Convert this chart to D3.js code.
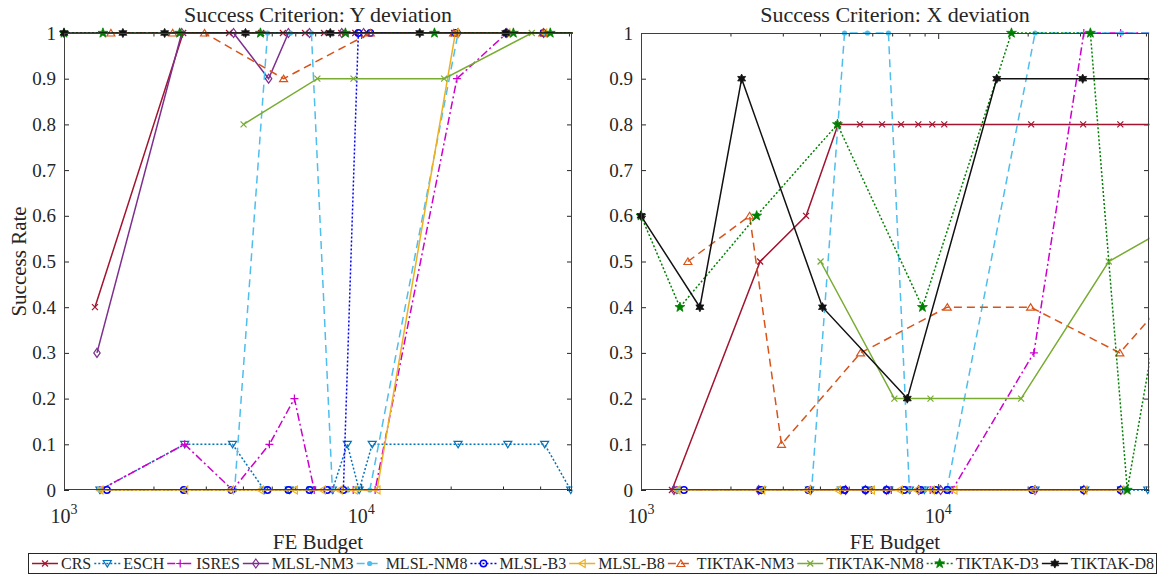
<!DOCTYPE html>
<html>
<head>
<meta charset="utf-8">
<script src="https://cdn.jsdelivr.net/npm/d3@7"></script>
<style>
body { margin: 0; background: #fff; }
svg text { font-family: "Liberation Serif", "Times New Roman", serif; fill: #262626; }
</style>
</head>
<body>
<div id="chart"></div>
<script>
// tick labels / axis values
var yTicks = [0, 0.1, 0.2, 0.3, 0.4, 0.5, 0.6, 0.7, 0.8, 0.9, 1];
var xMajor = [1000, 10000];
var xMinor = [2000, 3000, 4000, 5000, 6000, 7000, 8000, 9000, 20000, 30000, 40000, 50000];
var xDomain = [1000, 51200];
var titles = ["Success Criterion: Y deviation", "Success Criterion: X deviation"];
var algos = ["CRS", "ESCH", "ISRES", "MLSL-NM3", "MLSL-NM8", "MLSL-B3", "MLSL-B8",
             "TIKTAK-NM3", "TIKTAK-NM8", "TIKTAK-D3", "TIKTAK-D8"];

// FE budget used, success rate for Y deviation, success rate for X deviation
var crsFE   = [1271, 2517, 3593, 4605, 5453, 6471, 7497, 8570, 9550, 10480, 20550, 30740, 41000, 55000];
var crsY    = [0.4, 1, 1, 1, 1, 1, 1, 1, 1, 1, 1, 1, 1, 1];
var crsX    = [0, 0.5, 0.6, 0.8, 0.8, 0.8, 0.8, 0.8, 0.8, 0.8, 0.8, 0.8, 0.8, 0.8];

var eschFE  = [1321, 2547, 3690, 4720, 5730, 6800, 8000, 8980, 9840, 10890, 21180, 31130, 41420, 50700];
var eschY   = [0, 0.1, 0.1, 0, 0, 0, 0, 0.1, 0, 0.1, 0.1, 0.1, 0.1, 0];
var eschX   = [0, 0, 0, 0, 0, 0, 0, 0, 0, 0, 0, 0, 0, 0];

var isresFE = [1321, 2547, 3690, 4910, 5960, 6950, 8040, 9400, 11140, 20990, 30900, 41100, 55000];
var isresY  = [0, 0.1, 0, 0.1, 0.2, 0, 0, 0, 0, 0.9, 1, 1, 1];
var isresX  = [0, 0, 0, 0, 0, 0, 0, 0, 0, 0.3, 1, 1, 1];

var nm3FE   = [1291, 2489, 3720, 4880, 5690, 6700, 8600, 10190, 21180, 30900, 41100];
var nm3Y    = [0.3, 1, 1, 0.9, 1, 1, 1, 1, 1, 1, 1];
var nm3X    = [0, 0, 0, 0, 0, 0, 0, 0, 0, 0, 0];

var nm8FE   = [1321, 2547, 3750, 4840, 5780, 6800, 8000, 9020, 10690, 21180, 41420, 55000];
var nm8Y    = [0, 0, 0, 1, 1, 1, 0, 0, 0, 1, 1, 1];
var nm8X    = [0, 0, 0, 1, 1, 1, 0, 0, 0, 1, 1, 1];

var b3FE    = [1395, 2530, 3660, 4840, 5690, 6700, 7690, 8710, 9780, 10730, 20740, 30900, 41100];
var b3Y     = [0, 0, 0, 0, 0, 0, 0, 0, 1, 1, 1, 1, 1];
var b3X     = [0, 0, 0, 0, 0, 0, 0, 0, 0, 0, 0, 0, 0];

var b8FE    = [1321, 2547, 3630, 4580, 5960, 7400, 8430, 9480, 11300, 20740, 30900, 41100];
var b8Y     = [0, 0, 0, 0, 0, 0, 0, 0, 0, 1, 1, 1];
var b8X     = [0, 0, 0, 0, 0, 0, 0, 0, 0, 0, 0, 0];

var tkNm3FE = [1438, 2320, 2970, 5480, 10730, 20460, 40850, 55600];
var tkNm3Y  = [1, 1, 1, 0.9, 1, 1, 1, 1];
var tkNm3X  = [0.5, 0.6, 0.1, 0.3, 0.4, 0.4, 0.3, 0.4];

var tkNm8FE = [4020, 7120, 9420, 19010, 37490, 70000];
var tkNm8Y  = [0.8, 0.9, 0.9, 0.9, 1, 1];
var tkNm8X  = [0.5, 0.2, 0.2, 0.2, 0.5, 0.6];

var tkD3FE  = [1000, 1352, 2450, 4580, 8850, 17640, 32510, 43270, 55400];
var tkD3Y   = [1, 1, 1, 1, 1, 1, 1, 1, 1];
var tkD3X   = [0.6, 0.4, 0.6, 0.8, 0.4, 1, 1, 0, 0.4];

var tkD8FE  = [1000, 1578, 2181, 4080, 7870, 15740, 30640, 55000];
var tkD8Y   = [1, 1, 1, 1, 1, 1, 1, 1];
var tkD8X   = [0.6, 0.4, 0.9, 0.4, 0.2, 0.9, 0.9, 0.9];

var feData = [crsFE, eschFE, isresFE, nm3FE, nm8FE, b3FE, b8FE, tkNm3FE, tkNm8FE, tkD3FE, tkD8FE];
var yData  = [crsY, eschY, isresY, nm3Y, nm8Y, b3Y, b8Y, tkNm3Y, tkNm8Y, tkD3Y, tkD8Y];
var xData  = [crsX, eschX, isresX, nm3X, nm8X, b3X, b8X, tkNm3X, tkNm8X, tkD3X, tkD8X];

var styles = [
	{color: "#A2142F", dash: null,        marker: "x"},
	{color: "#0072BD", dash: "2,2",       marker: "v"},
	{color: "#CC00CC", dash: "8,3,2,3",   marker: "+"},
	{color: "#7E2F8E", dash: null,        marker: "d"},
	{color: "#4DBEEE", dash: "8,5",       marker: "."},
	{color: "#0000FF", dash: "2,2",       marker: "o"},
	{color: "#EDB120", dash: null,        marker: "<"},
	{color: "#D95319", dash: "8,5",       marker: "^"},
	{color: "#77AC30", dash: null,        marker: "x"},
	{color: "#008000", dash: "2,2",       marker: "p"},
	{color: "#111111", dash: null,        marker: "h"}
];

var series = algos.map(function(name, i) {
	return {
		name: name,
		style: styles[i],
		ydev: feData[i].map(function(f, j) { return {fe: f, v: yData[i][j]}; }),
		xdev: feData[i].map(function(f, j) { return {fe: f, v: xData[i][j]}; })
	};
});

var chart = {
	w: 1159, h: 579,
	top: 33, bottom: 490,
	panels: [{l: 64, r: 572, key: "ydev"}, {l: 641, r: 1149, key: "xdev"}],
	svg: null
};

function starPath(n, ro, ri) {
	var s = "";
	for (var k = 0; k < 2 * n; k++) {
		var a = -Math.PI / 2 + k * Math.PI / n;
		var r = (k % 2 === 0) ? ro : ri;
		s += (k === 0 ? "M" : "L") + (r * Math.cos(a)).toFixed(2) + "," + (r * Math.sin(a)).toFixed(2);
	}
	return s + "Z";
}

function markerPath(t) {
	switch (t) {
		case "x": return "M-3,-3L3,3M-3,3L3,-3";
		case "+": return "M-4,0H4M0,-4V4";
		case "v": return "M0,3.5L-4,-3L4,-3Z";
		case "^": return "M0,-3.5L-4,3L4,3Z";
		case "<": return "M-3.5,0L3,-4L3,4Z";
		case "d": return "M0,-4.5L3.2,0L0,4.5L-3.2,0Z";
		case "p": return starPath(5, 5.2, 2.1);
		case "h": return starPath(6, 4.6, 2.5);
	}
	return "";
}

function drawMarker(g, st, x, y) {
	if (st.marker === "o") {
		g.append("circle").attr("cx", x).attr("cy", y).attr("r", 3.2)
			.attr("fill", "none").attr("stroke", st.color).attr("stroke-width", 1.5);
	} else if (st.marker === ".") {
		g.append("circle").attr("cx", x).attr("cy", y).attr("r", 2.6)
			.attr("fill", st.color);
	} else {
		var filled = (st.marker === "p" || st.marker === "h");
		g.append("path").attr("transform", "translate(" + x + "," + y + ")")
			.attr("d", markerPath(st.marker))
			.attr("fill", filled ? st.color : "none")
			.attr("stroke", st.color)
			.attr("stroke-width", filled ? 0.8 : 1.2);
	}
}

function init() {
	chart.svg = d3.select("#chart").append("svg")
		.attr("width", chart.w)
		.attr("height", chart.h);
}

function drawPanel(p, idx) {
	var svg = chart.svg;
	var x = d3.scaleLog().domain(xDomain).range([p.l, p.r]);
	var y = d3.scaleLinear().domain([0, 1]).range([chart.bottom, chart.top]);

	var clipId = "clip" + idx;
	svg.append("clipPath").attr("id", clipId)
		.append("rect")
			.attr("x", p.l - 10).attr("y", chart.top - 10)
			.attr("width", p.r - p.l + 10.5).attr("height", chart.bottom - chart.top + 20);

	// axes (ticks pointing inward)
	svg.append("g")
		.attr("transform", "translate(" + p.l + ",0)")
		.call(d3.axisLeft(y).tickValues(yTicks).tickSize(-5).tickPadding(8)
			.tickFormat(function(d) { return String(d); }))
		.call(function(g) { g.select(".domain").remove(); })
		.call(function(g) {
			g.selectAll("text").style("font-family", "Liberation Serif").style("font-size", "19px").attr("fill", "#262626");
			g.selectAll("line").attr("stroke", "#262626");
		});

	svg.append("g")
		.attr("transform", "translate(" + p.r + ",0)")
		.call(d3.axisRight(y).tickValues(yTicks).tickSize(-5).tickFormat(""))
		.call(function(g) { g.select(".domain").remove(); g.selectAll("line").attr("stroke", "#262626"); });

	[[d3.axisBottom, chart.bottom], [d3.axisTop, chart.top]].forEach(function(a) {
		svg.append("g")
			.attr("transform", "translate(0," + a[1] + ")")
			.call(a[0](x).tickValues(xMinor).tickSize(-3.5).tickFormat(""))
			.call(function(g) { g.select(".domain").remove(); g.selectAll("line").attr("stroke", "#262626"); });
		svg.append("g")
			.attr("transform", "translate(0," + a[1] + ")")
			.call(a[0](x).tickValues(xMajor).tickSize(-6).tickFormat(""))
			.call(function(g) { g.select(".domain").remove(); g.selectAll("line").attr("stroke", "#262626"); });
	});

	// x tick labels 10^3, 10^4
	xMajor.forEach(function(v) {
		var t = svg.append("text")
			.attr("x", x(v)).attr("y", 523)
			.attr("text-anchor", "middle")
			.style("font-size", "20px");
		t.append("tspan").text("10");
		t.append("tspan").attr("dy", -9).style("font-size", "14px").text(String(Math.round(Math.log10(v))));
	});

	// data
	var line = d3.line()
		.x(function(d) { return x(d.fe); })
		.y(function(d) { return y(d.v); });

	var dataG = svg.append("g").attr("clip-path", "url(#" + clipId + ")");
	series.forEach(function(s) {
		var g = dataG.append("g");
		g.append("path")
			.attr("d", line(s[p.key]))
			.attr("fill", "none")
			.attr("stroke", s.style.color)
			.attr("stroke-width", 1.5)
			.attr("stroke-dasharray", s.style.dash);
		s[p.key].forEach(function(d) {
			drawMarker(g, s.style, x(d.fe), y(d.v));
		});
	});

	// box
	svg.append("rect")
		.attr("x", p.l + 0.5).attr("y", chart.top + 0.5)
		.attr("width", p.r - p.l - 1).attr("height", chart.bottom - chart.top - 1)
		.attr("fill", "none").attr("stroke", "#404040").attr("stroke-width", 1);

	svg.append("text")
		.attr("x", (p.l + p.r) / 2).attr("y", 22)
		.attr("text-anchor", "middle")
		.style("font-size", "22px").attr("fill", "#000")
		.text(titles[idx]);

	svg.append("text")
		.attr("x", (p.l + p.r) / 2).attr("y", 549)
		.attr("text-anchor", "middle")
		.style("font-size", "21px")
		.text("FE Budget");
}

function drawLegend() {
	var svg = chart.svg;
	var lg = svg.append("g");
	lg.append("rect")
		.attr("x", 28.5).attr("y", 553.5).attr("width", 1128).attr("height", 20)
		.attr("fill", "#fff").attr("stroke", "#262626").attr("stroke-width", 1);

	var sample = 26, pad = 3;
	var texts = series.map(function(s) {
		return lg.append("text").attr("y", 569).style("font-size", "16px").attr("fill", "#000").text(s.name);
	});
	var widths = texts.map(function(t) { return t.node().getComputedTextLength(); });
	var total = d3.sum(widths) + series.length * (sample + pad);
	var gap = (1154 - 32 - total) / (series.length - 1);

	var cx = 32;
	series.forEach(function(s, i) {
		lg.append("line")
			.attr("x1", cx).attr("x2", cx + sample)
			.attr("y1", 563.5).attr("y2", 563.5)
			.attr("stroke", s.style.color).attr("stroke-width", 1.5)
			.attr("stroke-dasharray", s.style.dash);
		drawMarker(lg, s.style, cx + sample / 2, 563.5);
		texts[i].attr("x", cx + sample + pad);
		cx += sample + pad + widths[i] + gap;
	});
}

init();
chart.panels.forEach(drawPanel);

chart.svg.append("text")
	.attr("transform", "translate(26," + ((chart.top + chart.bottom) / 2) + ") rotate(-90)")
	.attr("text-anchor", "middle")
	.style("font-size", "21px")
	.text("Success Rate");

drawLegend();
</script>
</body>
</html>
